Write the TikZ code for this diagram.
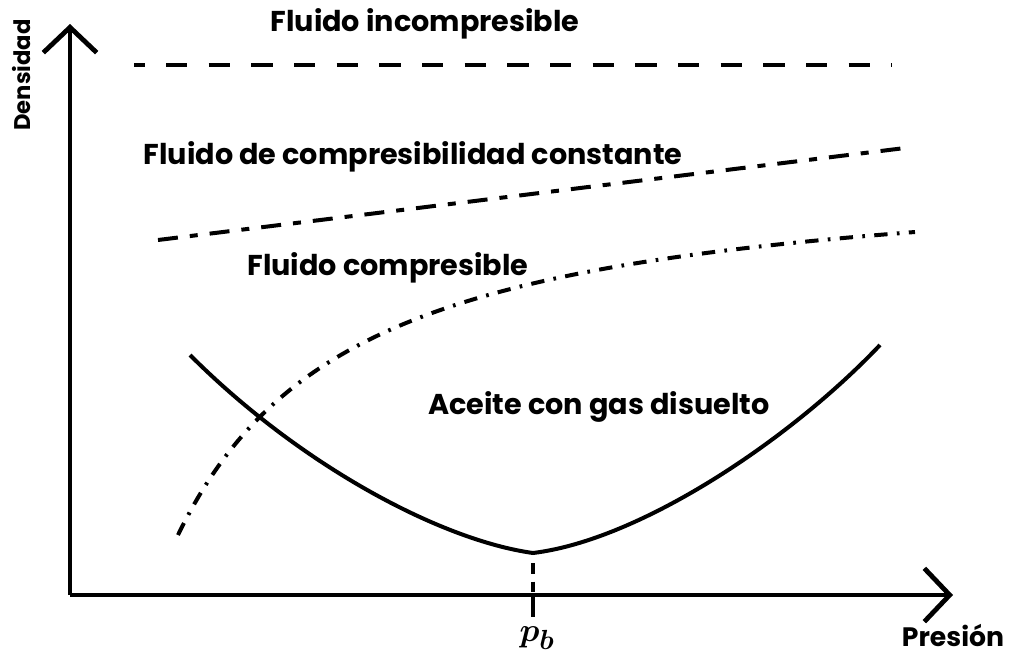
\documentclass[tikz,border=0pt]{standalone}
\usepackage{fontspec}
\setmainfont{Poppins}
\usetikzlibrary{arrows.meta}
\begin{document}
\begin{tikzpicture}[x=0.75pt,y=-0.75pt,
  axis/.style={line width=3.6pt,-{Straight Barb[length=19pt,width=40pt]}},
  lbl/.style={font=\fontsize{21.5}{24}\selectfont\bfseries,inner sep=0pt},
  axlbl/.style={font=\fontsize{20}{22}\selectfont\bfseries,inner sep=0pt},
  pblbl/.style={font=\fontsize{28}{30}\selectfont\boldmath,inner sep=0pt},
  incomp/.style={line width=3pt,dash pattern=on 16pt off 16pt,dash phase=8pt},
  constc/.style={line width=3pt,dash pattern=on 15pt off 9pt on 6pt off 9pt},
  comp/.style={line width=3pt,dash pattern=on 10pt off 7pt on 2pt off 7pt},
  oil/.style={line width=3pt}]
\useasboundingbox (0,0) rectangle (1011,661);
\coordinate (O) at (70,595);
\coordinate (Ytip) at (70,24);
\coordinate (Xtip) at (953,595);
\draw[axis] (O) -- (Ytip);
\draw[axis] (O) -- (Xtip);
% incompressible
\coordinate (i1) at (134,65);
\coordinate (i2) at (892,65);
\draw[incomp] (i1) -- (i2);
% constant compressibility
\coordinate (c1) at (158,240);
\coordinate (c2) at (905,148);
\draw[constc] (c1) -- (c2);
% compressible
\coordinate (f1) at (178,535);
\coordinate (f2) at (915,232);
\draw[comp] (f1) .. controls (275,335) and (450,268) .. (f2);
% oil with dissolved gas
\coordinate (a1) at (190,355);
\coordinate (amin) at (533,553);
\coordinate (a2) at (880,345);
\draw[oil] (a1) .. controls (300,465) and (440,540) .. (amin) .. controls (640,540) and (790,440) .. (a2);
% pb tick
\coordinate (pbtop) at (533,563);
\coordinate (pbax) at (533,595);
\coordinate (pbbot) at (533,617);
\draw[line width=3.6pt,dash pattern=on 8pt off 6pt] (pbtop) -- (pbax);
\draw[line width=3.6pt] (pbax) -- (pbbot);
% labels
\node[lbl] (tinc) at (425,24) {Fluido incompresible};
\node[lbl] (tcon) at (413,157) {Fluido de compresibilidad constante};
\node[lbl] (tcom) at (388,268) {Fluido compresible};
\node[lbl] (toil) at (599,407) {Aceite con gas disuelto};
\node[axlbl,font=\fontsize{17}{20}\selectfont\bfseries,rotate=90] (tden) at (22,75) {Densidad};
\node[axlbl] (tpre) at (953,635) {Presión};
\node[pblbl] (tpb) at (537,638) {$p_b$};
\end{tikzpicture}
\end{document}
